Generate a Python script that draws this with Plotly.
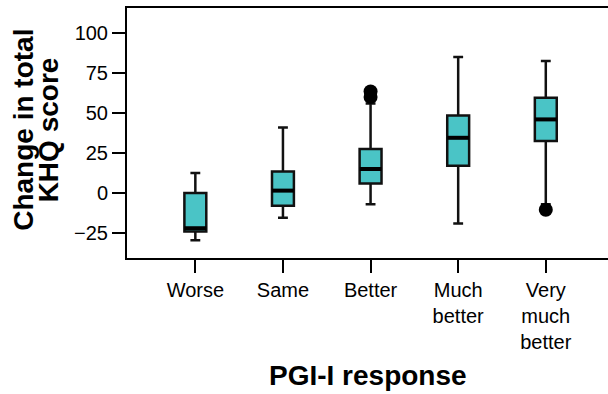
import plotly.graph_objects as go

categories = ["Worse", "Same", "Better", "Much<br>better", "Very<br>much<br>better"]
positions = [0, 1, 2, 3, 4]
q1 = [-24, -8, 6, 17, 32.5]
median = [-22, 1.5, 15, 34.5, 46]
q3 = [0, 13.5, 27.5, 48.5, 59.5]
lowerfence = [-29.5, -15.5, -7, -19, -7]
upperfence = [12.5, 41, 56, 85, 82.5]
outlier_x = [2, 2, 4]
outlier_y = [63.5, 60, -10.5]
y_ticks = [-25, 0, 25, 50, 75, 100]

BOX_W = 0.25
FILL = "#4AC4C6"
FONT = "Liberation Sans, Arial, sans-serif"

fig = go.Figure()
fig.add_trace(go.Box(
    x=positions, q1=q1, median=median, q3=q3,
    lowerfence=lowerfence, upperfence=upperfence,
    width=BOX_W, whiskerwidth=0.45,
    fillcolor=FILL, line=dict(color="#111111", width=2.5),
    boxpoints=False, showlegend=False, hoverinfo="skip",
))

# thick median bars
mx, my = [], []
for p, m in zip(positions, median):
    mx += [p - BOX_W / 2, p + BOX_W / 2, None]
    my += [m, m, None]
fig.add_trace(go.Scatter(x=mx, y=my, mode="lines",
                         line=dict(color="black", width=4),
                         showlegend=False, hoverinfo="skip"))

fig.add_trace(go.Scatter(x=outlier_x, y=outlier_y, mode="markers",
                         marker=dict(color="black", size=14),
                         showlegend=False, hoverinfo="skip"))

fig.update_layout(
    width=608, height=394,
    margin=dict(l=127, r=0, t=8, b=136),
    paper_bgcolor="white", plot_bgcolor="white",
    font=dict(family=FONT, color="black", size=20),
)
fig.update_xaxes(
    range=[-0.78, 4.71], tickmode="array", tickvals=positions, ticktext=categories,
    showline=True, linecolor="black", linewidth=2, mirror=True,
    ticks="outside", ticklen=13, tickwidth=2, tickcolor="black",
    showgrid=False, zeroline=False, tickfont=dict(size=20, family=FONT),
)
fig.update_yaxes(
    range=[-40.6, 115.6], tickmode="array", tickvals=y_ticks,
    showline=True, linecolor="black", linewidth=2,
    ticks="outside", ticklen=13, tickwidth=2, tickcolor="black",
    showgrid=False, zeroline=False, tickfont=dict(size=20, family=FONT),
)

fig.add_annotation(text="<b>PGI-I response</b>", xref="paper", yref="paper",
                   x=0.5, y=-0.47, xanchor="center", yanchor="middle",
                   showarrow=False, font=dict(size=28, family=FONT))
fig.add_annotation(text="<b>Change in total</b>", xref="paper", yref="paper",
                   x=-0.214, y=0.513, xanchor="center", yanchor="middle", textangle=-90,
                   showarrow=False, font=dict(size=28, family=FONT))
fig.add_annotation(text="<b>KHQ score</b>", xref="paper", yref="paper",
                   x=-0.163, y=0.513, xanchor="center", yanchor="middle", textangle=-90,
                   showarrow=False, font=dict(size=28, family=FONT))

fig.write_html("out.html", config={"displayModeBar": False},
               post_script="document.body.style.margin='0';document.body.style.overflow='hidden';")
